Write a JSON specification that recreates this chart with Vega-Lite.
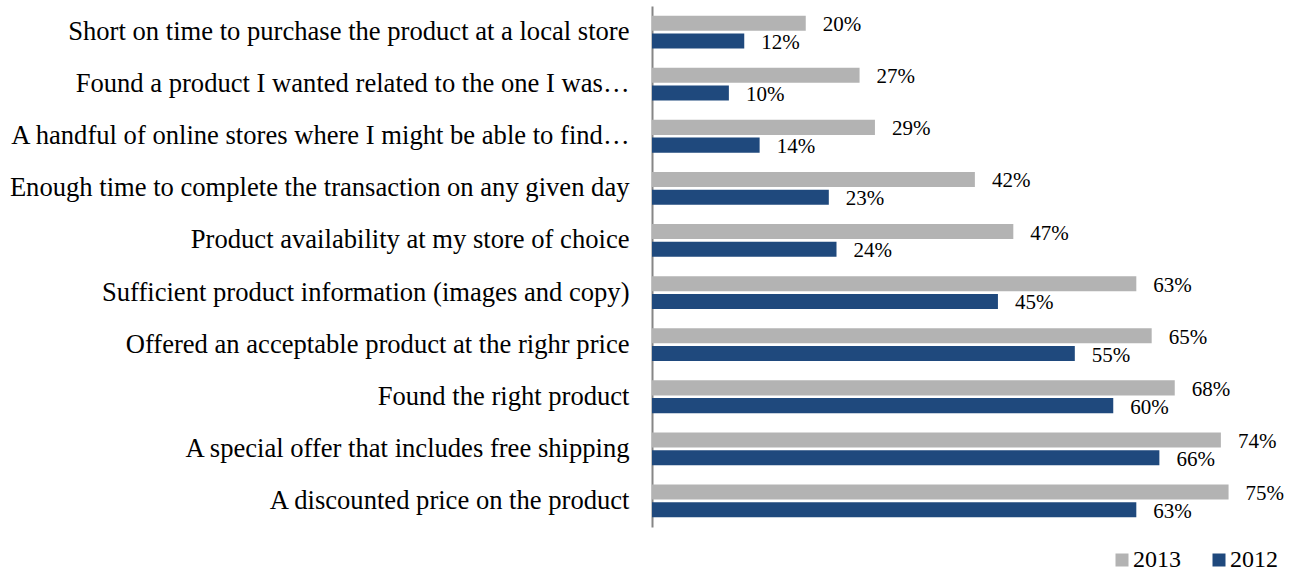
{
  "$schema": "https://vega.github.io/schema/vega-lite/v6.json",
  "autosize": {"type": "none"},
  "padding": {"left": 652, "top": 6, "right": 27, "bottom": 44},
  "width": 615,
  "height": 521,
  "background": "white",
  "config": {
    "view": {"stroke": null},
    "font": "Liberation Serif"
  },
  "data": {
    "values": [
      {"reason": "Short on time to purchase the product at a local store", "year": "2013", "pct": 20},
      {"reason": "Short on time to purchase the product at a local store", "year": "2012", "pct": 12},
      {"reason": "Found a product I wanted related to the one I was…", "year": "2013", "pct": 27},
      {"reason": "Found a product I wanted related to the one I was…", "year": "2012", "pct": 10},
      {"reason": "A handful of online stores where I might be able to find…", "year": "2013", "pct": 29},
      {"reason": "A handful of online stores where I might be able to find…", "year": "2012", "pct": 14},
      {"reason": "Enough time to complete the transaction on any given day", "year": "2013", "pct": 42},
      {"reason": "Enough time to complete the transaction on any given day", "year": "2012", "pct": 23},
      {"reason": "Product availability at my store of choice", "year": "2013", "pct": 47},
      {"reason": "Product availability at my store of choice", "year": "2012", "pct": 24},
      {"reason": "Sufficient product information (images and copy)", "year": "2013", "pct": 63},
      {"reason": "Sufficient product information (images and copy)", "year": "2012", "pct": 45},
      {"reason": "Offered an acceptable product at the righr price", "year": "2013", "pct": 65},
      {"reason": "Offered an acceptable product at the righr price", "year": "2012", "pct": 55},
      {"reason": "Found the right product", "year": "2013", "pct": 68},
      {"reason": "Found the right product", "year": "2012", "pct": 60},
      {"reason": "A special offer that includes free shipping", "year": "2013", "pct": 74},
      {"reason": "A special offer that includes free shipping", "year": "2012", "pct": 66},
      {"reason": "A discounted price on the product", "year": "2013", "pct": 75},
      {"reason": "A discounted price on the product", "year": "2012", "pct": 63}
    ]
  },
  "encoding": {
    "y": {
      "field": "reason",
      "type": "nominal",
      "sort": null,
      "scale": {"paddingInner": 0.37, "paddingOuter": 0.185},
      "axis": {
        "title": null,
        "domain": true,
        "domainColor": "#868686",
        "domainWidth": 2,
        "ticks": false,
        "grid": false,
        "labelFontSize": 26.6,
        "labelColor": "#000000",
        "labelPadding": 23,
        "labelLimit": 700,
        "labelFont": "Liberation Serif"
      }
    },
    "yOffset": {
      "field": "year",
      "type": "nominal",
      "sort": ["2013", "2012"],
      "scale": {"paddingInner": 0.15, "paddingOuter": 0}
    },
    "x": {
      "field": "pct",
      "type": "quantitative",
      "scale": {"domain": [0, 80], "nice": false},
      "axis": null
    }
  },
  "layer": [
    {
      "mark": {"type": "bar"},
      "encoding": {
        "color": {
          "field": "year",
          "type": "nominal",
          "scale": {"domain": ["2013", "2012"], "range": ["#B3B3B3", "#1F497D"]},
          "legend": {
            "title": null,
            "orient": "none",
            "direction": "horizontal",
            "legendX": 458,
            "legendY": 542,
            "symbolType": "square",
            "symbolSize": 169,
            "symbolStrokeWidth": 0,
            "labelFontSize": 24,
            "labelFont": "Liberation Serif",
            "labelColor": "#000000",
            "labelOffset": -1,
            "columnPadding": 26,
            "padding": 0
          }
        }
      }
    },
    {
      "mark": {"type": "text", "align": "left", "baseline": "middle", "dx": 17, "dy": 2, "fontSize": 21, "font": "Liberation Serif", "color": "#000000"},
      "encoding": {
        "text": {"field": "label", "type": "nominal"}
      },
      "transform": [{"calculate": "datum.pct + '%'", "as": "label"}]
    }
  ]
}
